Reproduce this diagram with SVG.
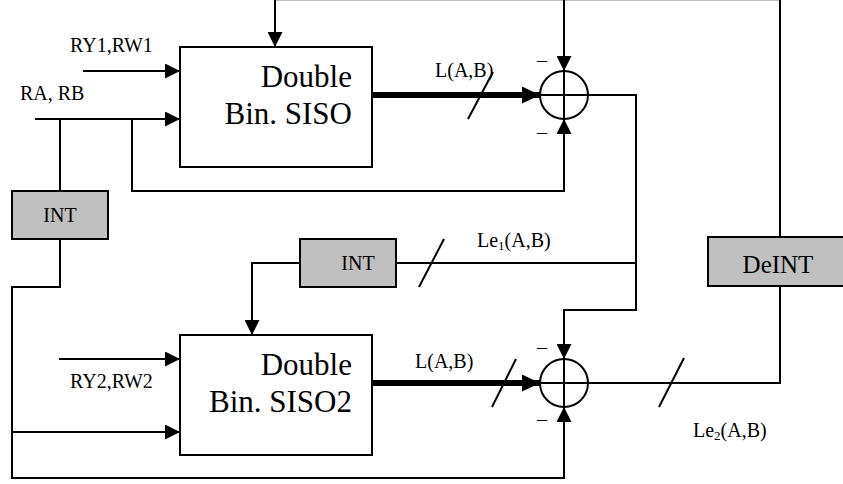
<svg xmlns="http://www.w3.org/2000/svg" width="843" height="484" viewBox="0 0 843 484">
<style>
.ln{fill:none;stroke:#000;stroke-width:2}
.thick{fill:none;stroke:#000;stroke-width:6}
.box{fill:#fff;stroke:#000;stroke-width:2}
.gbox{fill:#c0c0c0;stroke:#000;stroke-width:2}
.t{font-family:"Liberation Serif","Times New Roman",serif;fill:#000}
.big{font-size:31px}
.sm{font-size:20px}
</style>
<defs>
<marker id="arr" markerUnits="userSpaceOnUse" markerWidth="16" markerHeight="15" refX="15" refY="7.5" orient="auto">
<path d="M0,0 L15,7.5 L0,15 z" fill="#000"/>
</marker>
<marker id="arrT" markerUnits="userSpaceOnUse" markerWidth="19" markerHeight="17" refX="18" refY="8.5" orient="auto">
<path d="M0,0 L18,8.5 L0,17 z" fill="#000"/>
</marker>
</defs>
<rect width="843" height="484" fill="#fff"/>
<g id="connectors">
<line x1="275" y1="0.5" x2="780" y2="0.5" stroke="#bbb" stroke-width="1"/>
<path class="ln" d="M275,0 V47" marker-end="url(#arr)"/>
<path class="ln" d="M564,0 V71" marker-end="url(#arr)"/>
<path class="ln" d="M780,0 V237"/>
<path class="ln" d="M83,71 H180" marker-end="url(#arr)"/>
<path class="ln" d="M35,119 H180" marker-end="url(#arr)"/>
<path class="ln" d="M60,119 V191"/>
<path class="ln" d="M132,119 V191 H564 V119" marker-end="url(#arr)"/>
<path class="thick" d="M372,95 H540" marker-end="url(#arrT)"/>
<line class="ln" x1="468" y1="119" x2="493" y2="72"/>
<path class="ln" d="M588,95 H636 V310 H564 V359" marker-end="url(#arr)"/>
<path class="ln" d="M636,263 H396"/>
<line class="ln" x1="419" y1="287" x2="444" y2="239"/>
<path class="ln" d="M300,263 H252 V335" marker-end="url(#arr)"/>
<path class="ln" d="M60,239 V287 H12 V478 H564 V407" marker-end="url(#arr)"/>
<path class="ln" d="M12,432 H180" marker-end="url(#arr)"/>
<path class="ln" d="M59,359 H180" marker-end="url(#arr)"/>
<path class="thick" d="M372,383 H540" marker-end="url(#arrT)"/>
<line class="ln" x1="492" y1="407" x2="516" y2="359"/>
<path class="ln" d="M588,383 H780 V286"/>
<line class="ln" x1="659" y1="407" x2="684" y2="358"/>
</g>
<g id="box1">
<rect class="box" x="180" y="47" width="192" height="120"/>
<text class="t big" x="352" y="87" text-anchor="end">Double</text>
<text class="t big" x="352" y="124" text-anchor="end">Bin. SISO</text>
</g>
<g id="box2">
<rect class="box" x="180" y="335" width="192" height="120"/>
<text class="t big" x="352" y="375" text-anchor="end">Double</text>
<text class="t big" x="352" y="412" text-anchor="end">Bin. SISO2</text>
</g>
<g id="sum1">
<circle class="ln" cx="564" cy="95" r="24"/>
<line class="ln" x1="540" y1="95" x2="588" y2="95"/>
<line class="ln" x1="564" y1="71" x2="564" y2="119"/>
<text class="t sm" x="537" y="67">–</text>
<text class="t sm" x="537" y="139">–</text>
</g>
<g id="sum2">
<circle class="ln" cx="564" cy="383" r="24"/>
<line class="ln" x1="540" y1="383" x2="588" y2="383"/>
<line class="ln" x1="564" y1="359" x2="564" y2="407"/>
<text class="t sm" x="537" y="354">–</text>
<text class="t sm" x="537" y="426">–</text>
</g>
<g id="int1">
<rect class="gbox" x="12" y="191" width="96" height="48"/>
<text class="t sm" x="60" y="222" text-anchor="middle">INT</text>
</g>
<g id="int2">
<rect class="gbox" x="300" y="239" width="96" height="48"/>
<text class="t sm" x="358" y="270" text-anchor="middle">INT</text>
</g>
<g id="deint">
<rect class="gbox" x="708" y="237" width="150" height="49"/>
<text class="t" font-size="25" x="778" y="273" text-anchor="middle">DeINT</text>
</g>
<g id="labels">
<text class="t sm" x="70" y="52">RY1,RW1</text>
<text class="t sm" x="20" y="100">RA, RB</text>
<text class="t sm" x="70" y="388">RY2,RW2</text>
<text class="t sm" x="435" y="77">L(A,B)</text>
<text class="t sm" x="415" y="368">L(A,B)</text>
<text class="t sm" x="477" y="247">Le<tspan font-size="13" dy="3">1</tspan><tspan dy="-3">(A,B)</tspan></text>
<text class="t sm" x="693" y="437">Le<tspan font-size="13" dy="3">2</tspan><tspan dy="-3">(A,B)</tspan></text>
</g>
</svg>
